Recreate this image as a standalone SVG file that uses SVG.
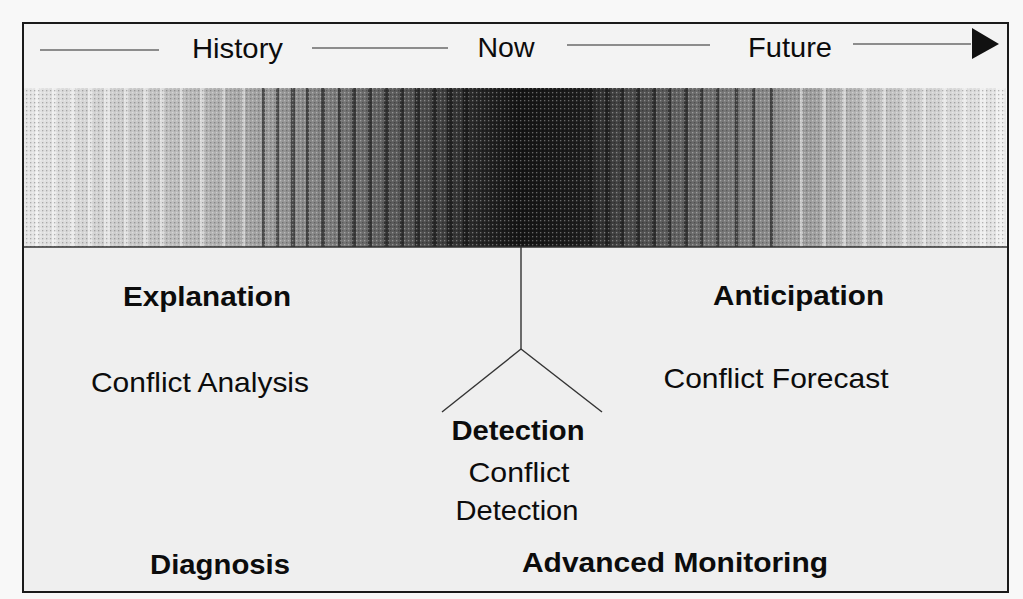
<svg xmlns="http://www.w3.org/2000/svg" width="1023" height="599" viewBox="0 0 1023 599">
  <style>
    .lbl { font-family: "Liberation Sans", Arial, sans-serif; fill: #0c0c0c; text-anchor: middle; }
    .reg { font-size: 28px; font-weight: normal; }
    .bold { font-size: 28px; font-weight: bold; }
    .rule { stroke: #6a6a6a; stroke-width: 1.6; fill: none; }
    .conn { stroke: #333; stroke-width: 1.4; fill: none; }
    .dk { fill: #101010; opacity: 0.55; }
    .lt { fill: #ffffff; opacity: 0.45; }
  </style>
  <defs>
    <!-- time intensity: pale in the past and future, darkest at the present -->
    <linearGradient id="timeGrad" x1="24" y1="0" x2="1008" y2="0" gradientUnits="userSpaceOnUse">
      <stop offset="0" stop-color="#e6e6e6"/>
      <stop offset="0.077" stop-color="#d2d2d2"/>
      <stop offset="0.18" stop-color="#b6b6b6"/>
      <stop offset="0.25" stop-color="#9c9c9c"/>
      <stop offset="0.33" stop-color="#727272"/>
      <stop offset="0.41" stop-color="#4a4a4a"/>
      <stop offset="0.463" stop-color="#242424"/>
      <stop offset="0.504" stop-color="#141414"/>
      <stop offset="0.565" stop-color="#1c1c1c"/>
      <stop offset="0.605" stop-color="#444444"/>
      <stop offset="0.687" stop-color="#6c6c6c"/>
      <stop offset="0.768" stop-color="#8e8e8e"/>
      <stop offset="0.84" stop-color="#b2b2b2"/>
      <stop offset="0.92" stop-color="#d0d0d0"/>
      <stop offset="1" stop-color="#e8e8e8"/>
    </linearGradient>
    <!-- halftone screen texture -->
    <pattern id="screen" width="4" height="4" patternUnits="userSpaceOnUse">
      <rect x="0" y="0" width="1.3" height="1.3" fill="#ffffff" opacity="0.35"/>
      <rect x="2" y="2" width="1.3" height="1.3" fill="#000000" opacity="0.25"/>
    </pattern>
  </defs>

  <!-- page -->
  <rect x="0" y="0" width="1023" height="599" fill="#f8f8f8"/>

  <!-- frame panels -->
  <rect x="23" y="23" width="985" height="65" fill="#f3f3f3"/>
  <rect x="23" y="247" width="985" height="345" fill="#efefef"/>

  <!-- timeline intensity band -->
  <g id="band">
    <rect x="24" y="88" width="982" height="159" fill="url(#timeGrad)"/>
    <g>
      <rect class="lt" x="35" y="88" width="4" height="159"/>
      <rect class="lt" x="52" y="88" width="4" height="159"/>
      <rect class="lt" x="70" y="88" width="5" height="159"/>
      <rect class="lt" x="88" y="88" width="4" height="159"/>
      <rect class="lt" x="104" y="88" width="6" height="159"/>
      <rect class="lt" x="124" y="88" width="4" height="159"/>
      <rect class="lt" x="143" y="88" width="5" height="159"/>
      <rect class="lt" x="160" y="88" width="4" height="159"/>
      <rect class="lt" x="180" y="88" width="3" height="159"/>
      <rect class="lt" x="200" y="88" width="4" height="159"/>
      <rect class="lt" x="222" y="88" width="3" height="159"/>
      <rect class="lt" x="242" y="88" width="3" height="159"/>
      <rect class="dk" x="262" y="88" width="3" height="159"/>
      <rect class="dk" x="276" y="88" width="3" height="159"/>
      <rect class="dk" x="291" y="88" width="4" height="159"/>
      <rect class="dk" x="306" y="88" width="3" height="159"/>
      <rect class="dk" x="321" y="88" width="4" height="159"/>
      <rect class="dk" x="338" y="88" width="3" height="159"/>
      <rect class="dk" x="352" y="88" width="4" height="159"/>
      <rect class="dk" x="368" y="88" width="4" height="159"/>
      <rect class="dk" x="384" y="88" width="5" height="159"/>
      <rect class="dk" x="400" y="88" width="4" height="159"/>
      <rect class="dk" x="415" y="88" width="5" height="159"/>
      <rect class="dk" x="432" y="88" width="5" height="159"/>
      <rect class="dk" x="447" y="88" width="6" height="159"/>
      <rect class="dk" x="463" y="88" width="6" height="159"/>
      <rect class="dk" x="588" y="88" width="5" height="159"/>
      <rect class="dk" x="605" y="88" width="5" height="159"/>
      <rect class="dk" x="620" y="88" width="4" height="159"/>
      <rect class="dk" x="636" y="88" width="4" height="159"/>
      <rect class="dk" x="652" y="88" width="4" height="159"/>
      <rect class="dk" x="668" y="88" width="3" height="159"/>
      <rect class="dk" x="684" y="88" width="4" height="159"/>
      <rect class="dk" x="700" y="88" width="3" height="159"/>
      <rect class="dk" x="716" y="88" width="3" height="159"/>
      <rect class="dk" x="735" y="88" width="3" height="159"/>
      <rect class="dk" x="752" y="88" width="3" height="159"/>
      <rect class="dk" x="770" y="88" width="3" height="159"/>
      <rect class="lt" x="800" y="88" width="3" height="159"/>
      <rect class="lt" x="822" y="88" width="4" height="159"/>
      <rect class="lt" x="842" y="88" width="4" height="159"/>
      <rect class="lt" x="862" y="88" width="5" height="159"/>
      <rect class="lt" x="882" y="88" width="4" height="159"/>
      <rect class="lt" x="902" y="88" width="5" height="159"/>
      <rect class="lt" x="922" y="88" width="4" height="159"/>
      <rect class="lt" x="942" y="88" width="5" height="159"/>
      <rect class="lt" x="962" y="88" width="5" height="159"/>
      <rect class="lt" x="980" y="88" width="6" height="159"/>
      <rect class="lt" x="996" y="88" width="8" height="159"/>
    </g>
    <rect x="24" y="88" width="982" height="159" fill="url(#screen)"/>
    <line x1="24" y1="247" x2="1008" y2="247" stroke="#333" stroke-width="1.5"/>
  </g>

  <!-- outer frame -->
  <rect x="23" y="23" width="985" height="569" fill="none" stroke="#1a1a1a" stroke-width="2"/>

  <!-- time axis -->
  <g id="timeline">
    <line class="rule" x1="40" y1="50" x2="159" y2="50"/>
    <line class="rule" x1="312" y1="48" x2="448" y2="48"/>
    <line class="rule" x1="567" y1="45" x2="710" y2="45"/>
    <line class="rule" x1="853" y1="44" x2="971" y2="44"/>
    <path d="M972,28 L999,44 L972,59 Z" fill="#111"/>
    <text id="history" class="lbl reg" x="237.5" y="58" textLength="91" lengthAdjust="spacingAndGlyphs">History</text>
    <text id="now" class="lbl reg" x="506" y="57" textLength="57" lengthAdjust="spacingAndGlyphs">Now</text>
    <text id="future" class="lbl reg" x="790" y="57" textLength="84" lengthAdjust="spacingAndGlyphs">Future</text>
  </g>

  <!-- connectors -->
  <g id="connectors">
    <line class="conn" x1="521" y1="247" x2="521" y2="349"/>
    <line class="conn" x1="521" y1="349" x2="442" y2="412"/>
    <line class="conn" x1="521" y1="349" x2="602" y2="412"/>
  </g>

  <!-- nodes -->
  <g id="explanation">
    <text class="lbl bold" x="207" y="306" textLength="168" lengthAdjust="spacingAndGlyphs">Explanation</text>
    <text class="lbl reg" x="200" y="392" textLength="218" lengthAdjust="spacingAndGlyphs">Conflict Analysis</text>
  </g>
  <g id="anticipation">
    <text class="lbl bold" x="798.5" y="305" textLength="171" lengthAdjust="spacingAndGlyphs">Anticipation</text>
    <text class="lbl reg" x="776" y="388" textLength="225" lengthAdjust="spacingAndGlyphs">Conflict Forecast</text>
  </g>
  <g id="detection">
    <text class="lbl bold" x="518" y="440" textLength="133" lengthAdjust="spacingAndGlyphs">Detection</text>
    <text class="lbl reg" x="519" y="482" textLength="101" lengthAdjust="spacingAndGlyphs">Conflict</text>
    <text class="lbl reg" x="517" y="520" textLength="123" lengthAdjust="spacingAndGlyphs">Detection</text>
  </g>
  <g id="diagnosis">
    <text class="lbl bold" x="220" y="574" textLength="140" lengthAdjust="spacingAndGlyphs">Diagnosis</text>
  </g>
  <g id="monitoring">
    <text class="lbl bold" x="675" y="572" textLength="306" lengthAdjust="spacingAndGlyphs">Advanced Monitoring</text>
  </g>
</svg>
